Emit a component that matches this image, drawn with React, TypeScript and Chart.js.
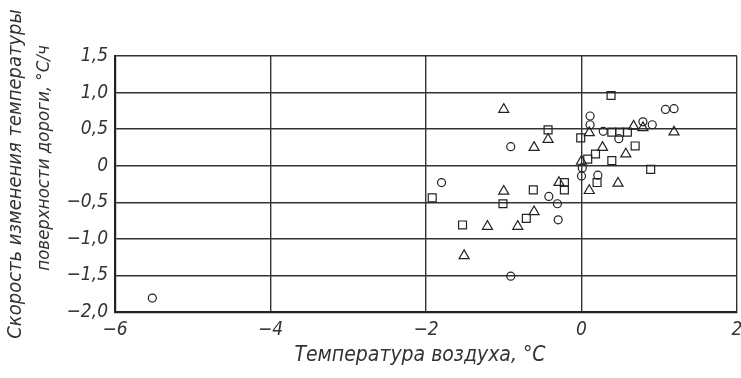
import React, { useEffect, useRef } from "react";
import { Chart, registerables } from "chart.js";

Chart.register(...registerables);

// ---- Data ----
const circleX = [-5.52, -1.8, -0.91, -0.91, -0.42, -0.31, -0.3, 0.0, 0.01, 0.11, 0.11, 0.21, 0.28, 0.48, 0.79, 0.91, 1.08, 1.19];
const circleY = [-1.81, -0.23, 0.26, -1.51, -0.42, -0.52, -0.74, -0.14, -0.03, 0.68, 0.56, -0.13, 0.47, 0.37, 0.6, 0.56, 0.77, 0.78];

const squareX = [-1.92, -1.53, -1.01, -0.71, -0.62, -0.43, -0.22, -0.22, -0.01, 0.08, 0.18, 0.2, 0.38, 0.39, 0.39, 0.49, 0.59, 0.69, 0.89];
const squareY = [-0.44, -0.81, -0.52, -0.72, -0.33, 0.49, -0.23, -0.33, 0.38, 0.09, 0.16, -0.23, 0.96, 0.46, 0.07, 0.46, 0.46, 0.27, -0.05];

const triangleX = [-1.51, -1.21, -1.0, -1.0, -0.82, -0.61, -0.61, -0.43, -0.29, 0.0, 0.1, 0.1, 0.27, 0.47, 0.57, 0.67, 0.79, 1.19];
const triangleY = [-1.23, -0.83, 0.77, -0.35, -0.83, 0.25, -0.63, 0.36, -0.23, 0.06, 0.45, -0.34, 0.25, -0.24, 0.16, 0.54, 0.52, 0.46];

const xTickValues = [-6, -4, -2, 0, 2];
const xTickLabels = ["\u22126", "\u22124", "\u22122", "0", "2"];
const yTickValues = [-2, -1.5, -1, -0.5, 0, 0.5, 1, 1.5];
const yTickLabels = ["\u22122,0", "\u22121,5", "\u22121,0", "\u22120,5", "0", "0,5", "1,0", "1,5"];

const xTitle = "Температура воздуха, °C";
const yTitleLines = ["Скорость изменения температуры", "поверхности дороги, °С/ч"];

const FONT_FAMILY = '"DejaVu Sans Condensed", "Liberation Sans Narrow", "DejaVu Sans", sans-serif';
const INK = "#333";

const toPoints = (xs: number[], ys: number[]) => xs.map((x, i) => ({ x, y: ys[i] }));

const axisTitlesPlugin = {
  id: "axisTitles",
  afterDraw(chart: any) {
    const { ctx, chartArea } = chart;
    ctx.save();
    ctx.fillStyle = INK;
    ctx.textAlign = "center";
    ctx.textBaseline = "middle";
    ctx.font = `italic 21px ${FONT_FAMILY}`;
    const cx = (chartArea.left + chartArea.right) / 2 - 6;
    ctx.fillText(xTitle, cx, chartArea.bottom + 44);
    const mid = (chartArea.top + chartArea.bottom) / 2;
    // first line
    ctx.save();
    ctx.font = `italic 20px ${FONT_FAMILY}`;
    ctx.translate(16, mid - 10);
    ctx.rotate(-Math.PI / 2);
    ctx.fillText(yTitleLines[0], 0, 0);
    ctx.restore();
    // second line
    ctx.save();
    ctx.font = `italic 18.5px ${FONT_FAMILY}`;
    ctx.translate(44, mid - 26);
    ctx.rotate(-Math.PI / 2);
    ctx.fillText(yTitleLines[1], 0, 0);
    ctx.restore();
    ctx.restore();
  },
};

export default function App() {
  const ref = useRef<HTMLCanvasElement | null>(null);

  useEffect(() => {
    if (!ref.current) return;
    const common = {
      showLine: false,
      borderColor: "#222",
      backgroundColor: "rgba(255,255,255,0)",
      borderWidth: 1.2,
    };
    const chart = new Chart(ref.current, {
      type: "scatter",
      data: {
        datasets: [
          { ...common, label: "circles", data: toPoints(circleX, circleY), pointStyle: "circle", pointRadius: 4 },
          { ...common, label: "squares", data: toPoints(squareX, squareY), pointStyle: "rect", pointRadius: 5.6 },
          { ...common, label: "triangles", data: toPoints(triangleX, triangleY), pointStyle: "triangle", pointRadius: 5.8 },
        ],
      },
      options: {
        animation: false,
        responsive: false,
        maintainAspectRatio: false,
        layout: { autoPadding: false, padding: { left: 0, right: 4, top: 56, bottom: 0 } },
        plugins: { legend: { display: false }, tooltip: { enabled: false }, title: { display: false } },
        scales: {
          x: {
            type: "linear",
            min: -6,
            max: 2,
            afterBuildTicks: (scale: any) => {
              scale.ticks = xTickValues.map((v) => ({ value: v }));
            },
            afterFit: (scale: any) => {
              scale.height = 66;
              scale.paddingRight = 0;
              scale.paddingLeft = 0;
            },
            ticks: {
              padding: 7,
              color: INK,
              font: { family: FONT_FAMILY, size: 19, style: "italic" },
              callback: (v: any) => {
                const i = xTickValues.indexOf(Number(v));
                return i >= 0 ? xTickLabels[i] : "";
              },
            },
            grid: { color: "#333", lineWidth: 1.4, drawTicks: false },
            border: { display: true, color: "#222", width: 2.2 },
          },
          y: {
            type: "linear",
            min: -2,
            max: 1.5,
            afterBuildTicks: (scale: any) => {
              scale.ticks = yTickValues.map((v) => ({ value: v }));
            },
            afterFit: (scale: any) => {
              scale.width = 115;
              scale.paddingTop = 0;
              scale.paddingBottom = 0;
            },
            ticks: {
              padding: 7,
              color: INK,
              font: { family: FONT_FAMILY, size: 19, style: "italic" },
              callback: (v: any) => {
                const i = yTickValues.findIndex((t) => Math.abs(t - Number(v)) < 1e-9);
                return i >= 0 ? yTickLabels[i] : "";
              },
            },
            grid: { color: "#333", lineWidth: 1.4, drawTicks: false },
            border: { display: true, color: "#222", width: 2.2 },
          },
        },
      },
      plugins: [axisTitlesPlugin],
    } as any);
    return () => chart.destroy();
  }, []);

  return (
    <div style={{ position: "fixed", left: 0, top: 0, width: 741, height: 378, background: "#fff" }}>
      <canvas ref={ref} width={741} height={378} style={{ width: 741, height: 378, display: "block" }} />
    </div>
  );
}
